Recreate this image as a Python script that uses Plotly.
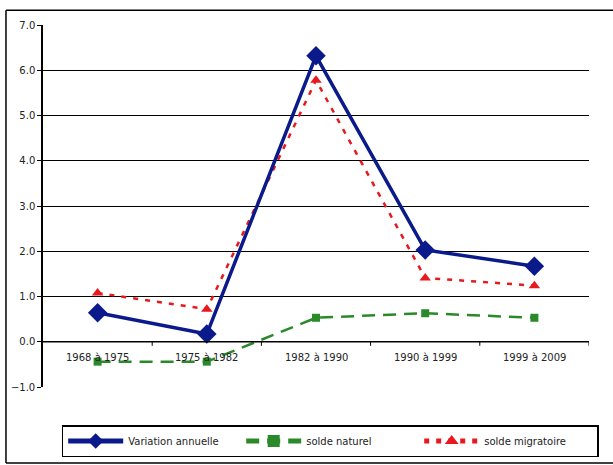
import plotly.graph_objects as go

categories = ["1968 à 1975", "1975 à 1982", "1982 à 1990", "1990 à 1999", "1999 à 2009"]
variation_annuelle = [0.64, 0.17, 6.32, 2.03, 1.67]
solde_naturel = [-0.44, -0.44, 0.53, 0.63, 0.53]
solde_migratoire = [1.08, 0.72, 5.78, 1.41, 1.24]
y_ticks = [-1, 0, 1, 2, 3, 4, 5, 6, 7]

xi = list(range(len(categories)))
FONT = "DejaVu Sans"

fig = go.Figure()
fig.add_trace(go.Scatter(
    x=xi, y=solde_naturel, name="solde naturel", mode="lines+markers",
    line=dict(color="#2a8a2a", width=2.5, dash="13px,8px"),
    marker=dict(symbol="square", size=8, color="#2a8a2a"), legendrank=2))
fig.add_trace(go.Scatter(
    x=xi, y=solde_migratoire, name="solde migratoire", mode="lines+markers",
    line=dict(color="#e8191e", width=2.5, dash="5px,7px"),
    marker=dict(symbol="triangle-up", size=10, color="#e8191e"), legendrank=3))
fig.add_trace(go.Scatter(
    x=xi, y=variation_annuelle, name="Variation annuelle", mode="lines+markers",
    line=dict(color="#0a1a8a", width=3.5),
    marker=dict(symbol="diamond", size=15, color="#0a1a8a"), legendrank=1))

# x-axis line at y=0 with category boundary ticks
fig.add_shape(type="line", xref="x", yref="y", x0=-0.5, x1=len(categories) - 0.5, y0=0, y1=0,
              line=dict(color="black", width=1.5))
for b in range(1, len(categories) + 1):
    fig.add_shape(type="line", xref="x", yref="y", x0=b - 0.5, x1=b - 0.5, y0=0, y1=-0.09,
                  line=dict(color="black", width=1))
for i, c in enumerate(categories):
    fig.add_annotation(x=i, y=0, xref="x", yref="y", text=c, showarrow=False,
                       yanchor="top", yshift=-8, font=dict(family=FONT, size=10, color="#222"))

# outer frame (left, top, bottom)
fig.add_shape(type="line", xref="paper", yref="paper", x0=-0.0678, x1=-0.0678, y0=1.041, y1=-0.21,
              line=dict(color="black", width=1.5))
fig.add_shape(type="line", xref="paper", yref="paper", x0=-0.0678, x1=1.05, y0=1.041, y1=1.041,
              line=dict(color="black", width=1.5))
fig.add_shape(type="line", xref="paper", yref="paper", x0=-0.0678, x1=1.05, y0=-0.21, y1=-0.21,
              line=dict(color="black", width=1.5))

fig.update_layout(
    width=613, height=465,
    margin=dict(l=43, r=24, t=25, b=78, autoexpand=False),
    paper_bgcolor="white", plot_bgcolor="white",
    font=dict(family=FONT, size=10, color="#222"),
    showlegend=True,
    legend=dict(orientation="h", x=0.526, xanchor="center", y=-0.105, yanchor="top",
                bordercolor="black", borderwidth=1.5, bgcolor="white",
                font=dict(family=FONT, size=10, color="#222"),
                itemsizing="constant", itemwidth=55, entrywidth=108, tracegroupgap=0),
    xaxis=dict(range=[-0.5, len(categories) - 0.5], showgrid=False, zeroline=False,
               showticklabels=False, showline=False, ticks="", automargin=False),
    yaxis=dict(range=[-1, 7], tickvals=y_ticks, tickformat=".1f", showgrid=True,
               gridcolor="black", gridwidth=1, zeroline=False, showline=True, automargin=False,
               linecolor="black", linewidth=1.5, ticks="outside", ticklen=4,
               tickcolor="black", tickfont=dict(family=FONT, size=10, color="#222")),
)

fig.write_html("out.html", config={"displayModeBar": False},
               post_script="document.body.style.margin='0';document.body.style.padding='0';")
